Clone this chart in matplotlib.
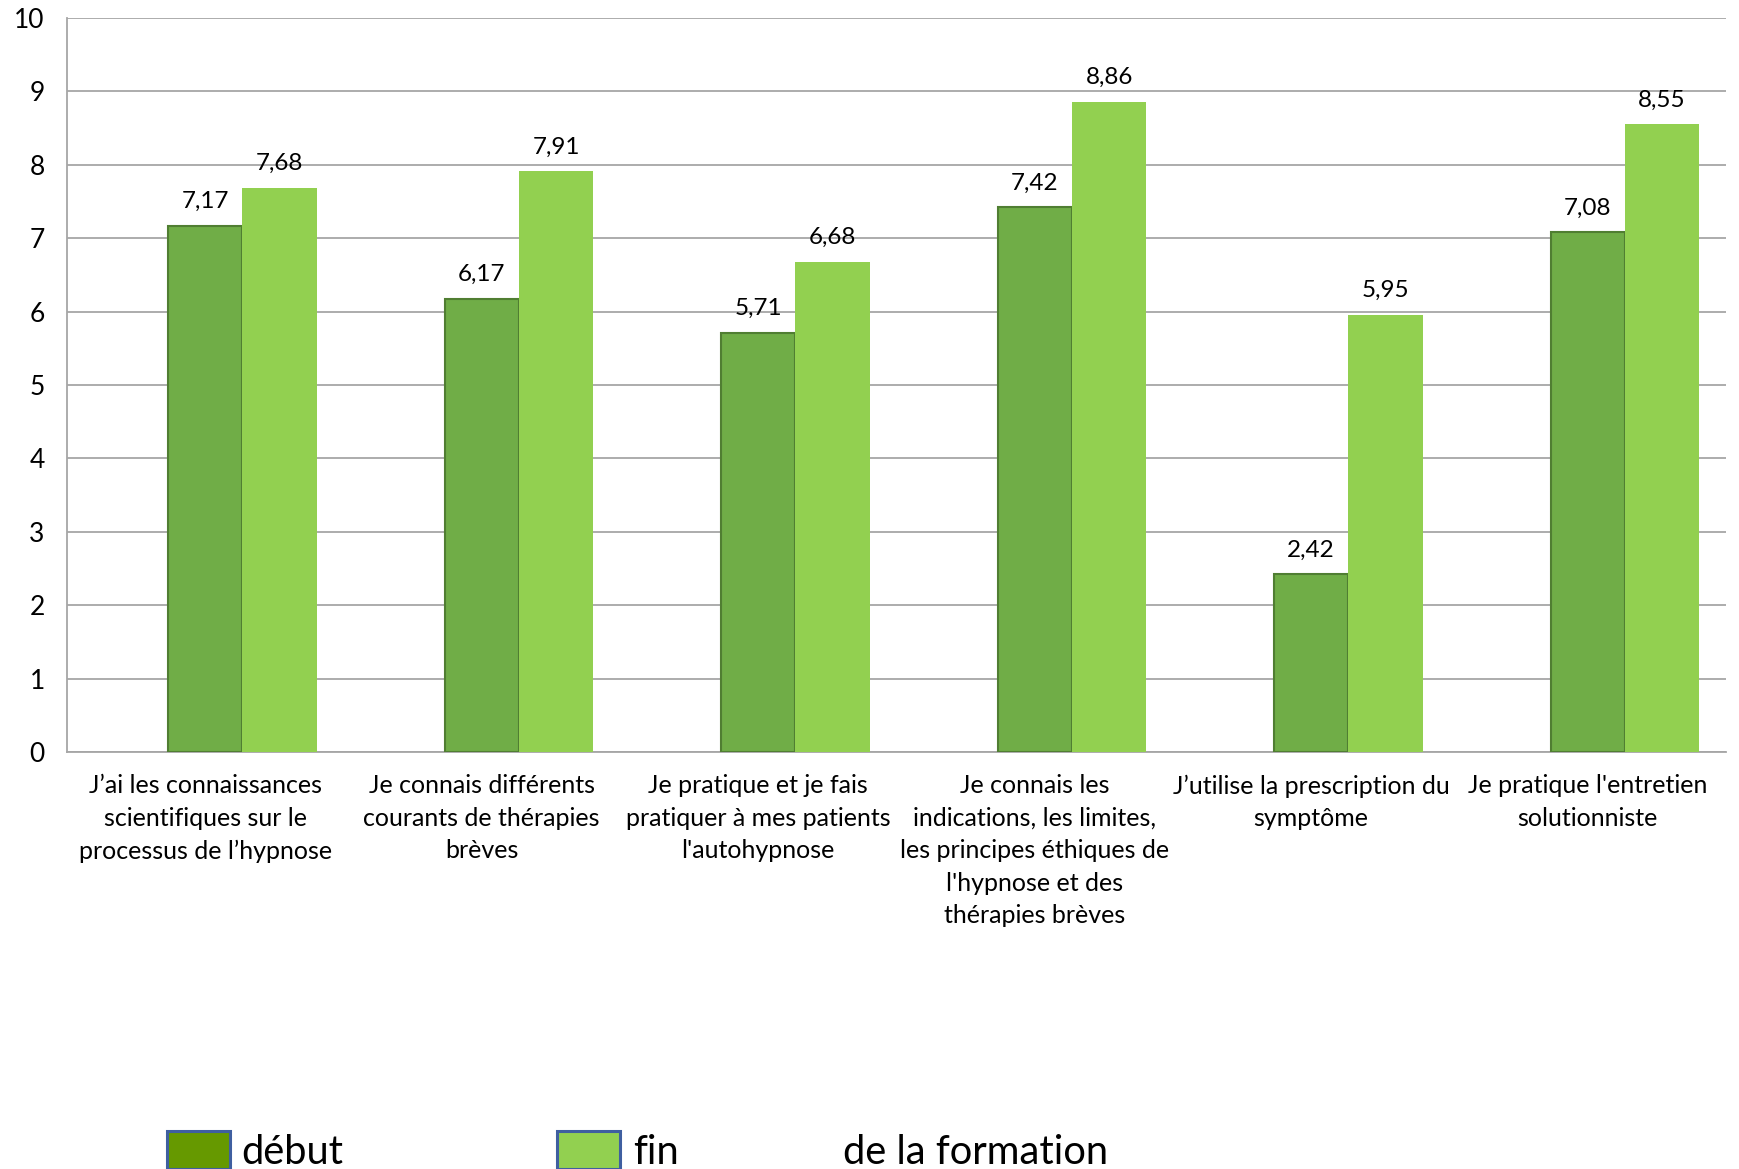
import matplotlib.pyplot as plt
import numpy as np
from matplotlib.patches import Rectangle

plt.rcParams['font.family'] = ['Lato', 'DejaVu Sans']

categories = [
    "J’ai les connaissances\nscientifiques sur le\nprocessus de l’hypnose",
    "Je connais différents\ncourants de thérapies\nbrèves",
    "Je pratique et je fais\npratiquer à mes patients\nl'autohypnose",
    "Je connais les\nindications, les limites,\nles principes éthiques de\nl'hypnose et des\nthérapies brèves",
    "J’utilise la prescription du\nsymptôme",
    "Je pratique l'entretien\nsolutionniste",
]
debut = [7.17, 6.17, 5.71, 7.42, 2.42, 7.08]
fin = [7.68, 7.91, 6.68, 8.86, 5.95, 8.55]
legend_labels = ["début", "fin", "de la formation"]

fig = plt.figure(figsize=(17.39, 11.69), dpi=100)
ax = fig.add_axes([0.0385, 0.3567, 0.954, 0.628])

x = np.arange(len(categories))
w = 0.269
b1 = ax.bar(x, debut, w, color='#70AD47', edgecolor='#507E32', linewidth=1.5, zorder=3)
b2 = ax.bar(x + w, fin, w, color='#92D050', edgecolor='none', zorder=3)

for bars, vals in ((b1, debut), (b2, fin)):
    for rect, v in zip(bars, vals):
        ax.annotate(f"{v:.2f}".replace('.', ','),
                    (rect.get_x() + rect.get_width() / 2, v),
                    xytext=(0, 10), textcoords='offset points',
                    ha='center', va='bottom', fontsize=17.5)

ax.set_xlim(-0.5, len(categories) - 0.5)
ax.set_ylim(0, 10)
ax.set_yticks(range(0, 11))
ax.set_xticks(x)
ax.set_xticklabels(categories, fontsize=18, linespacing=1.5)
ax.tick_params(axis='y', length=0, labelsize=19, pad=16)
ax.tick_params(axis='x', length=0, pad=16)
ax.yaxis.grid(True, color='#A6A6A6', linewidth=1.3, zorder=0)
for s in ('top', 'right'):
    ax.spines[s].set_visible(False)
for s in ('left', 'bottom'):
    ax.spines[s].set_color('#A6A6A6')
    ax.spines[s].set_linewidth(1.3)

# legend drawn by hand at the bottom, partly cut like the original
H = 1169.0
W = 1739.0
for x0, fc in ((167, '#669900'), (557, '#92D050')):
    fig.patches.append(Rectangle((x0 / W, 0), 63 / W, 38 / H, transform=fig.transFigure,
                                 facecolor=fc, edgecolor='#3F5FA0', linewidth=2.2))
for x0, lab in zip((241, 633, 843), legend_labels):
    fig.text(x0 / W, 1 - 1164 / H, lab, fontsize=28.7, ha='left', va='baseline')

fig.savefig('out.png', dpi=100)
